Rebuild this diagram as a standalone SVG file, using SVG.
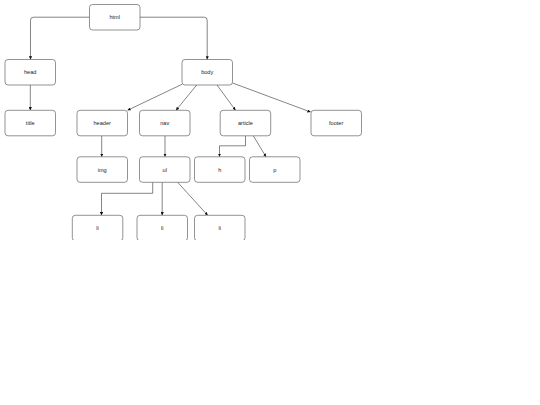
<svg xmlns="http://www.w3.org/2000/svg" width="540" height="405" viewBox="0 0 540 405">
<style>
.n rect{fill:#fff;stroke:#4a4a4a;stroke-width:0.6}
.n text{font-family:"Liberation Sans",Arial,sans-serif;font-size:5.6px;fill:#222;text-anchor:middle}
.e path{fill:none;stroke:#333;stroke-width:0.6}
</style>
<defs>
<marker id="ah" viewBox="0 0 6 6" markerUnits="userSpaceOnUse" markerWidth="3.2" markerHeight="3.2" refX="6" refY="3" orient="auto">
<path d="M0,0 L6,3 L0,6 z" fill="#111"/>
</marker>
<clipPath id="clip"><rect x="0" y="0" width="540" height="240.1"/></clipPath>
</defs>
<rect width="540" height="405" fill="#fff"/>
<g class="e">
<path marker-end="url(#ah)" d="M89.5,17.2 H33.5 Q30.5,17.2 30.5,20.2 V59.5"/>
<path marker-end="url(#ah)" d="M140,17.2 H204.2 Q207.2,17.2 207.2,20.2 V59.5"/>
<path marker-end="url(#ah)" d="M30.3,85 V110.3"/>
<path marker-end="url(#ah)" d="M182,84.3 L127.5,110.3"/>
<path marker-end="url(#ah)" d="M196.7,85 L176,110.3"/>
<path marker-end="url(#ah)" d="M217,85 L235.5,110.3"/>
<path marker-end="url(#ah)" d="M232.6,83 L310.6,112"/>
<path marker-end="url(#ah)" d="M101.7,135.8 V156.8"/>
<path marker-end="url(#ah)" d="M165,135.8 V156.8"/>
<path marker-end="url(#ah)" d="M245.5,135.8 V145.8 H219.5 V156.8"/>
<path marker-end="url(#ah)" d="M253.3,135.8 L266,156.8"/>
<path marker-end="url(#ah)" d="M152.7,182.3 V193.3 H101.5 V215.3"/>
<path marker-end="url(#ah)" d="M162.2,182.3 V215.3"/>
<path marker-end="url(#ah)" d="M177.7,182.3 L207.7,215.3"/>
</g>
<g id="html" class="n"><rect x="89.5" y="4.5" width="50.5" height="25.5" rx="3"/><text x="114.7" y="19.2">html</text></g>
<g id="head" class="n"><rect x="5" y="59.5" width="50.5" height="25.5" rx="3"/><text x="30.2" y="74.2">head</text></g>
<g id="body" class="n"><rect x="182" y="59.5" width="50.5" height="25.5" rx="3"/><text x="207.2" y="74.2">body</text></g>
<g id="title" class="n"><rect x="5" y="110.3" width="50.5" height="25.5" rx="3"/><text x="30.2" y="125">title</text></g>
<g id="header" class="n"><rect x="77" y="110.3" width="50.5" height="25.5" rx="3"/><text x="102.2" y="125">header</text></g>
<g id="nav" class="n"><rect x="139.5" y="110.3" width="50.5" height="25.5" rx="3"/><text x="164.7" y="125">nav</text></g>
<g id="article" class="n"><rect x="220.2" y="110.3" width="50.5" height="25.5" rx="3"/><text x="245.4" y="125">article</text></g>
<g id="footer" class="n"><rect x="311" y="110.3" width="50.5" height="25.5" rx="3"/><text x="336.2" y="125">footer</text></g>
<g id="img" class="n"><rect x="77" y="156.8" width="50.5" height="25.5" rx="3"/><text x="102.2" y="171.5">img</text></g>
<g id="ul" class="n"><rect x="139.5" y="156.8" width="50.5" height="25.5" rx="3"/><text x="164.7" y="171.5">ul</text></g>
<g id="h" class="n"><rect x="194.5" y="156.8" width="50.5" height="25.5" rx="3"/><text x="219.7" y="171.5">h</text></g>
<g id="p" class="n"><rect x="249.5" y="156.8" width="50.5" height="25.5" rx="3"/><text x="274.7" y="171.5">p</text></g>
<g clip-path="url(#clip)">
<g id="li1" class="n"><rect x="72.3" y="215.3" width="50.5" height="25.5" rx="3"/><text x="97.5" y="230">li</text></g>
<g id="li2" class="n"><rect x="137" y="215.3" width="50.5" height="25.5" rx="3"/><text x="162.2" y="230">li</text></g>
<g id="li3" class="n"><rect x="194.5" y="215.3" width="50.5" height="25.5" rx="3"/><text x="219.7" y="230">li</text></g>
</g>
</svg>
